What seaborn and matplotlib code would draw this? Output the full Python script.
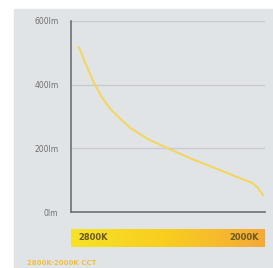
import numpy as np
import pandas as pd
import matplotlib
matplotlib.use("Agg")
import matplotlib.pyplot as plt
import seaborn as sns
from matplotlib.colors import LinearSegmentedColormap
from matplotlib.patches import Rectangle

# Dimming curve: colour temperature (K) vs luminous flux (lm)
cct = [2767, 2742, 2705, 2668, 2631, 2557, 2480, 2400, 2300, 2200, 2103, 2054, 2029, 2008]
lumen = [518, 470, 405, 355, 318, 265, 228, 200, 166, 136, 106, 92, 76, 53]
y_ticks = [0, 200, 400, 600]
y_labels = ["0lm", "200lm", "400lm", "600lm"]
bar_labels = ["2800K", "2000K"]
caption = "2800K-2000K CCT"

df = pd.DataFrame({"cct": cct, "lumen": lumen})

sns.set_style("white")
fig = plt.figure(figsize=(2.73, 2.68), dpi=100, facecolor="white")
bg = Rectangle((14 / 273, 0), 1, 1 - 9 / 268, transform=fig.transFigure,
               color="#e1e4e7", zorder=-10)
fig.patches.append(bg)

ax = fig.add_axes([71 / 273, 1 - 212 / 268, 194 / 273, 191 / 268])
ax.set_facecolor("none")
sns.lineplot(data=df, x="cct", y="lumen", ax=ax, color="#f2d660", linewidth=1.5)
ax.set_xlim(2800, 2000)
ax.set_ylim(0, 600)
ax.set_yticks(y_ticks)
ax.set_yticklabels(y_labels, fontsize=5.5, color="#707070")
ax.set_xticks([])
ax.set_xlabel("")
ax.set_ylabel("")
ax.tick_params(axis="y", length=0, pad=9)
for y in y_ticks[1:]:
    ax.axhline(y, color="#c8cacd", linewidth=1, zorder=0)
for s in ["top", "right"]:
    ax.spines[s].set_visible(False)
for s in ["left", "bottom"]:
    ax.spines[s].set_color("#6e6f72")
    ax.spines[s].set_linewidth(1.2)

# colour temperature bar
cbar = fig.add_axes([71 / 273, 1 - 247 / 268, 194 / 273, 18 / 268])
cmap = LinearSegmentedColormap.from_list("cct", ["#f5e327", "#f9cd1f", "#f4a93a"])
cbar.imshow(np.linspace(0, 1, 256)[None, :], cmap=cmap, aspect="auto")
cbar.set_axis_off()
cbar.text(0.04, 0.5, bar_labels[0], transform=cbar.transAxes, ha="left", va="center",
          fontsize=6, color="#6b5a1a", fontweight="bold")
cbar.text(0.97, 0.5, bar_labels[1], transform=cbar.transAxes, ha="right", va="center",
          fontsize=6, color="#6b5a1a", fontweight="bold")

fig.text(27 / 273, 1 - 263 / 268, caption, fontsize=5, color="#f0c040",
         ha="left", va="center", fontweight="bold")

fig.savefig("out.png", dpi=100, facecolor="white")
